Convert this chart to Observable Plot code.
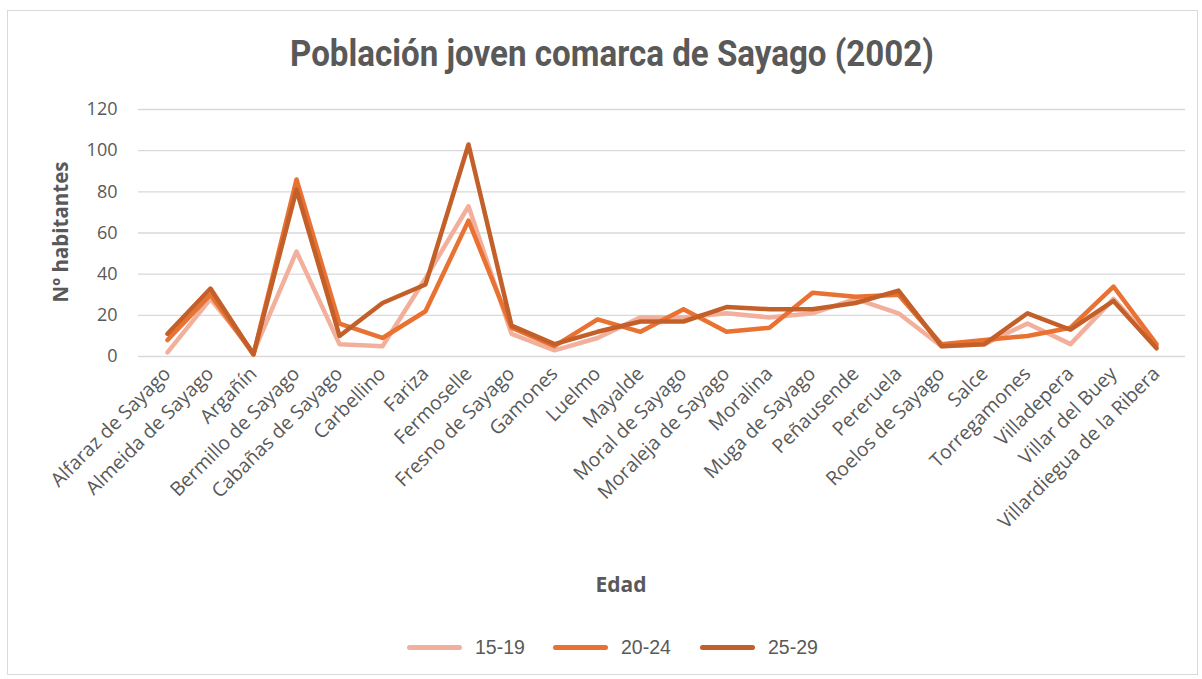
<!DOCTYPE html>
<html>
<head>
<meta charset="utf-8">
<script src="https://cdn.jsdelivr.net/npm/d3@7"></script>
<script src="https://cdn.jsdelivr.net/npm/@observablehq/plot@0.6"></script>
<style>
  html, body { margin: 0; padding: 0; background: #fff; }
  body { width: 1202px; height: 679px; position: relative; overflow: hidden; font-family: "Open Sans", "Noto Sans", sans-serif; color: #595959; }
  #frame { position: absolute; left: 7px; top: 10px; width: 1191px; height: 665px; border: 1px solid #d9d9d9; box-sizing: border-box; }
  #title { position: absolute; left: 612px; top: 54px; transform-origin: center center; font-family: Roboto, "Liberation Sans", sans-serif; font-weight: bold; font-size: 36px; color: #595959; white-space: nowrap; line-height: 1; }
  #chart { position: absolute; left: 0; top: 90px; }
  #ytitle { position: absolute; left: 60px; top: 232px; transform: translate(-50%, -50%) rotate(-90deg); font-weight: bold; font-size: 20.5px; white-space: nowrap; color: #595959; }
  #xtitle { position: absolute; left: 621px; top: 584px; transform: translate(-50%, -50%); font-weight: bold; font-size: 21px; color: #595959; }
  #legend { position: absolute; left: 0; top: 634px; width: 1202px; height: 26px; }
  .item { position: absolute; top: 0; height: 26px; display: flex; align-items: center; font-family: "Liberation Sans", Arial, sans-serif; font-size: 19.5px; color: #595959; }
  .sw { display: inline-block; width: 55px; height: 5px; border-radius: 3px; margin-right: 13px; }
</style>
</head>
<body>
<div id="frame"></div>
<div id="title">Población joven comarca de Sayago (2002)</div>
<div id="chart"></div>
<div id="ytitle">Nº habitantes</div>
<div id="xtitle">Edad</div>
<div id="legend"></div>
<script>
const categories = [
  "Alfaraz de Sayago", "Almeida de Sayago", "Argañín", "Bermillo de Sayago",
  "Cabañas de Sayago", "Carbellino", "Fariza", "Fermoselle", "Fresno de Sayago",
  "Gamones", "Luelmo", "Mayalde", "Moral de Sayago", "Moraleja de Sayago",
  "Moralina", "Muga de Sayago", "Peñausende", "Pereruela", "Roelos de Sayago",
  "Salce", "Torregamones", "Villadepera", "Villar del Buey", "Villardiegua de la Ribera"
];
const seriesNames = ["15-19", "20-24", "25-29"];
const values1519 = [2, 28, 2, 51, 6, 5, 38, 73, 11, 3, 9, 19, 19, 21, 19, 21, 28, 21, 5, 6, 16, 6, 28, 5];
const values2024 = [8, 30, 1, 86, 16, 9, 22, 66, 14, 5, 18, 12, 23, 12, 14, 31, 29, 30, 6, 8, 10, 14, 34, 6];
const values2529 = [11, 33, 1, 81, 10, 26, 35, 103, 15, 6, 12, 17, 17, 24, 23, 23, 26, 32, 5, 6, 21, 13, 27, 4];
const yTicks = [0, 20, 40, 60, 80, 100, 120];
const colors = ["#F2B09C", "#E97132", "#C3602A"];

const allValues = [values1519, values2024, values2529];
const rows = [];
seriesNames.forEach((s, i) => {
  categories.forEach((c, j) => rows.push({serie: s, cat: c, v: allValues[i][j]}));
});

const chart = Plot.plot({
  width: 1202,
  height: 520,
  marginLeft: 138,
  marginRight: 17,
  marginTop: 19,
  marginBottom: 254,
  style: {fontFamily: "'Open Sans', 'Noto Sans', sans-serif", color: "#595959", background: "transparent"},
  x: {type: "point", domain: categories, padding: 0.5, label: null},
  y: {domain: [0, 120], label: null},
  color: {domain: seriesNames, range: colors},
  marks: [
    Plot.gridY(yTicks, {stroke: "#d9d9d9", strokeOpacity: 1, strokeWidth: 1.3}),
    Plot.axisY(yTicks, {tickSize: 0, tickPadding: 21, fontSize: 18, label: null, fill: "#595959"}),
    Plot.axisX({tickSize: 0, tickPadding: 14, tickRotate: -45, fontSize: 19.5, label: null, fill: "#595959"}),
    Plot.lineY(rows, {x: "cat", y: "v", z: "serie", stroke: "serie", strokeWidth: 4.5, strokeLinejoin: "round", strokeLinecap: "round"})
  ]
});
document.getElementById("chart").appendChild(chart);

// fit the title to the reference width
const title = document.getElementById("title");
const w = title.getBoundingClientRect().width;
title.style.transform = `translate(-50%, -50%) scaleX(${644 / w})`;

const legend = document.getElementById("legend");
const legendX = [407, 553, 700];
seriesNames.forEach((s, i) => {
  const d = document.createElement("div");
  d.className = "item";
  d.style.left = legendX[i] + "px";
  d.innerHTML = `<span class="sw" style="background:${colors[i]}"></span>${s}`;
  legend.appendChild(d);
});
</script>
</body>
</html>
